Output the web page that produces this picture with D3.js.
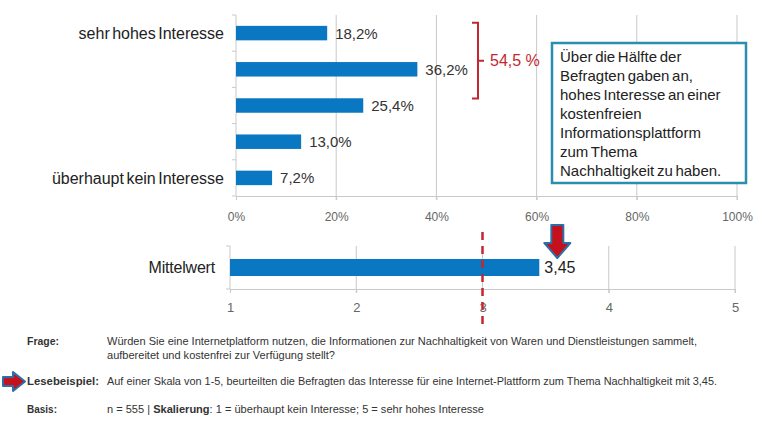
<!DOCTYPE html>
<html>
<head>
<meta charset="utf-8">
<script src="https://cdn.jsdelivr.net/npm/d3@7"></script>
<style>
  body { margin: 0; background: #fff; }
  svg { display: block; font-family: "Liberation Sans", Arial, sans-serif; }
</style>
</head>
<body>
<div id="chart"></div>
<script>
"use strict";
const categories = ["sehr hohes Interesse", "", "", "", "überhaupt kein Interesse"];
const shares = [18.2, 36.2, 25.4, 13.0, 7.2];
const pctTicks = [0, 20, 40, 60, 80, 100];
const bracketSum = 54.5;
const noteLines = ["Über die Hälfte der", "Befragten gaben an,", "hohes Interesse an einer", "kostenfreien",
    "Informationsplattform", "zum Thema", "Nachhaltigkeit zu haben."];
const meanLabel = "Mittelwert";
const meanValue = 3.45;
const scaleTicks = [1, 2, 3, 4, 5];
const midPoint = 3;

const width = 762;
const height = 422;
const blue = "#0a77c2";
const red = "#c3272f";
const grid = "#c9c9c9";

const de = d3.formatLocale({ decimal: ",", thousands: ".", grouping: [3], currency: ["", " €"] });
const pct = de.format(".1f");
const dec2 = de.format(".2f");

const svg = d3.select("#chart").append("svg")
    .attr("width", width)
    .attr("height", height);

// top chart: share per answer
const x = d3.scaleLinear().domain([0, 100]).range([236, 737]);
const y = d3.scaleBand().domain(d3.range(shares.length)).range([15, 196])
    .paddingInner(0.6).paddingOuter(0.3);

svg.append("g").selectAll("line")
    .data(pctTicks.slice(1))
    .join("line")
    .attr("x1", d => x(d)).attr("x2", d => x(d))
    .attr("y1", 15).attr("y2", 200)
    .attr("stroke", grid);

const xAxis = svg.append("g")
    .attr("transform", "translate(0,196)")
    .call(d3.axisBottom(x).tickValues(pctTicks).tickSize(4).tickFormat(d => d + "%"));
xAxis.select(".domain").attr("stroke", grid);
xAxis.selectAll(".tick line").attr("stroke", grid);
xAxis.selectAll("text").attr("fill", "#666").attr("font-size", 12).attr("dy", "1.5em")
    .attr("font-family", "Liberation Sans, Arial, sans-serif");

// left axis with ticks between bands
const step = y.step();
const bounds = d3.range(shares.length + 1).map(i => y(0) - step * y.paddingInner() / 2 + i * step);
svg.append("line")
    .attr("x1", x(0)).attr("x2", x(0))
    .attr("y1", bounds[0]).attr("y2", bounds[bounds.length - 1])
    .attr("stroke", grid);
svg.append("g").selectAll("line")
    .data(bounds)
    .join("line")
    .attr("x1", x(0) - 4).attr("x2", x(0))
    .attr("y1", d => d).attr("y2", d => d)
    .attr("stroke", grid);

svg.append("g").selectAll("rect")
    .data(shares)
    .join("rect")
    .attr("x", x(0))
    .attr("y", (d, i) => y(i))
    .attr("width", d => x(d) - x(0))
    .attr("height", y.bandwidth())
    .attr("fill", blue);

svg.append("g").selectAll("text")
    .data(shares)
    .join("text")
    .attr("x", d => x(d) + 8)
    .attr("y", (d, i) => y(i) + y.bandwidth() / 2)
    .attr("dy", "0.36em")
    .attr("font-size", 15)
    .attr("fill", "#333")
    .text(d => pct(d) + "%");

svg.append("g").selectAll("text")
    .data(categories)
    .join("text")
    .attr("x", 224)
    .attr("y", (d, i) => y(i) + y.bandwidth() / 2)
    .attr("dy", "0.36em")
    .attr("text-anchor", "end")
    .attr("font-size", 16)
    .attr("word-spacing", -2)
    .attr("fill", "#222")
    .text(d => d);

// red bracket around the top two answers
const bTop = y(0) - 3, bBot = y(1) + y.bandwidth() + 22, bMid = (bTop + bBot) / 2;
svg.append("path")
    .attr("d", `M472,${bTop} H478 V${bBot} H472 M478,${bMid} H484`)
    .attr("fill", "none")
    .attr("stroke", red)
    .attr("stroke-width", 2);
svg.append("text")
    .attr("x", 490).attr("y", bMid).attr("dy", "0.36em")
    .attr("font-size", 16)
    .attr("fill", red)
    .text(de.format(".1f")(bracketSum) + " %");

// note box
svg.append("rect")
    .attr("x", 552).attr("y", 43).attr("width", 194).attr("height", 140)
    .attr("fill", "#fff")
    .attr("stroke", "#2a8fae")
    .attr("stroke-width", 2.5);
svg.append("text")
    .attr("font-size", 15)
    .attr("word-spacing", -1.5)
    .attr("fill", "#222")
    .selectAll("tspan")
    .data(noteLines)
    .join("tspan")
    .attr("x", 560)
    .attr("y", (d, i) => 62 + i * 19)
    .text(d => d);

// bottom chart: mean on 1-5 scale
const xm = d3.scaleLinear().domain([1, 5]).range([230, 735]);
const mTop = 246, mBot = 289;

svg.append("g").selectAll("line")
    .data(scaleTicks.slice(1))
    .join("line")
    .attr("x1", d => xm(d)).attr("x2", d => xm(d))
    .attr("y1", mTop).attr("y2", mBot + 4)
    .attr("stroke", grid);

const mAxis = svg.append("g")
    .attr("transform", `translate(0,${mBot})`)
    .call(d3.axisBottom(xm).tickValues(scaleTicks).tickSize(4).tickFormat(d3.format("d")));
mAxis.select(".domain").attr("stroke", grid);
mAxis.selectAll(".tick line").attr("stroke", grid);
mAxis.selectAll("text").attr("fill", "#666").attr("font-size", 13).attr("dy", "1.2em")
    .attr("font-family", "Liberation Sans, Arial, sans-serif");

svg.append("line")
    .attr("x1", xm(1)).attr("x2", xm(1))
    .attr("y1", mTop).attr("y2", mBot)
    .attr("stroke", grid);
svg.append("g").selectAll("line")
    .data([mTop, mBot])
    .join("line")
    .attr("x1", xm(1) - 4).attr("x2", xm(1))
    .attr("y1", d => d).attr("y2", d => d)
    .attr("stroke", grid);

svg.append("rect")
    .attr("x", xm(1)).attr("y", 259)
    .attr("width", xm(meanValue) - xm(1))
    .attr("height", 17)
    .attr("fill", blue);

svg.append("text")
    .attr("x", xm(meanValue) + 5).attr("y", 267.5).attr("dy", "0.36em")
    .attr("font-size", 16).attr("fill", "#222")
    .text(dec2(meanValue));

svg.append("text")
    .attr("x", 215).attr("y", 267.5).attr("dy", "0.36em")
    .attr("text-anchor", "end")
    .attr("font-size", 16).attr("letter-spacing", -0.2).attr("fill", "#222")
    .text(meanLabel);

svg.append("line")
    .attr("x1", xm(midPoint)).attr("x2", xm(midPoint))
    .attr("y1", 232).attr("y2", 327)
    .attr("stroke", red)
    .attr("stroke-width", 2.5)
    .attr("stroke-dasharray", "8,6");

// down arrow over the mean
const ax = xm(meanValue) + 18;
svg.append("path")
    .attr("d", `M${ax - 6},225 H${ax + 6} V243 H${ax + 13} L${ax},258 L${ax - 13},243 H${ax - 6} Z`)
    .attr("fill", "#c4111b")
    .attr("stroke", "#2b6ea8")
    .attr("stroke-width", 2)
    .attr("stroke-linejoin", "round");

// footnotes (condensed, so squeeze each line to the reference width)
const note = svg.append("g")
    .attr("font-family", "'Liberation Sans Narrow', 'Arial Narrow', 'Liberation Sans', sans-serif")
    .attr("font-size", 11)
    .attr("fill", "#333");

const squeeze = (sel, w) => sel.attr("textLength", w).attr("lengthAdjust", "spacingAndGlyphs");

squeeze(note.append("text").attr("x", 27).attr("y", 345).attr("font-weight", "bold").text("Frage:"), 32);
squeeze(note.append("text").attr("x", 107).attr("y", 345)
    .text("Würden Sie eine Internetplatform nutzen, die Informationen zur Nachhaltigkeit von Waren  und Dienstleistungen sammelt,"), 590);
squeeze(note.append("text").attr("x", 107).attr("y", 359)
    .text("aufbereitet und kostenfrei zur Verfügung stellt?"), 228);

svg.append("path")
    .attr("d", "M3,377 H13 V372 L25,381.5 L13,391 V386 H3 Z")
    .attr("fill", "#c4111b")
    .attr("stroke", "#2b6ea8")
    .attr("stroke-width", 2)
    .attr("stroke-linejoin", "round");
squeeze(note.append("text").attr("x", 27).attr("y", 385).attr("font-weight", "bold").text("Lesebeispiel:"), 72);
squeeze(note.append("text").attr("x", 107).attr("y", 385)
    .text("Auf einer Skala von 1-5, beurteilten die Befragten das Interesse für eine Internet-Plattform zum Thema  Nachhaltigkeit mit 3,45."), 610);

squeeze(note.append("text").attr("x", 27).attr("y", 413).attr("font-weight", "bold").text("Basis:"), 30);
const basis = note.append("text").attr("x", 107).attr("y", 413);
basis.append("tspan").text("n = 555  |  ");
basis.append("tspan").attr("font-weight", "bold").text("Skalierung");
basis.append("tspan").text(": 1 = überhaupt kein Interesse; 5 = sehr hohes Interesse");
squeeze(basis, 377);
</script>
</body>
</html>
